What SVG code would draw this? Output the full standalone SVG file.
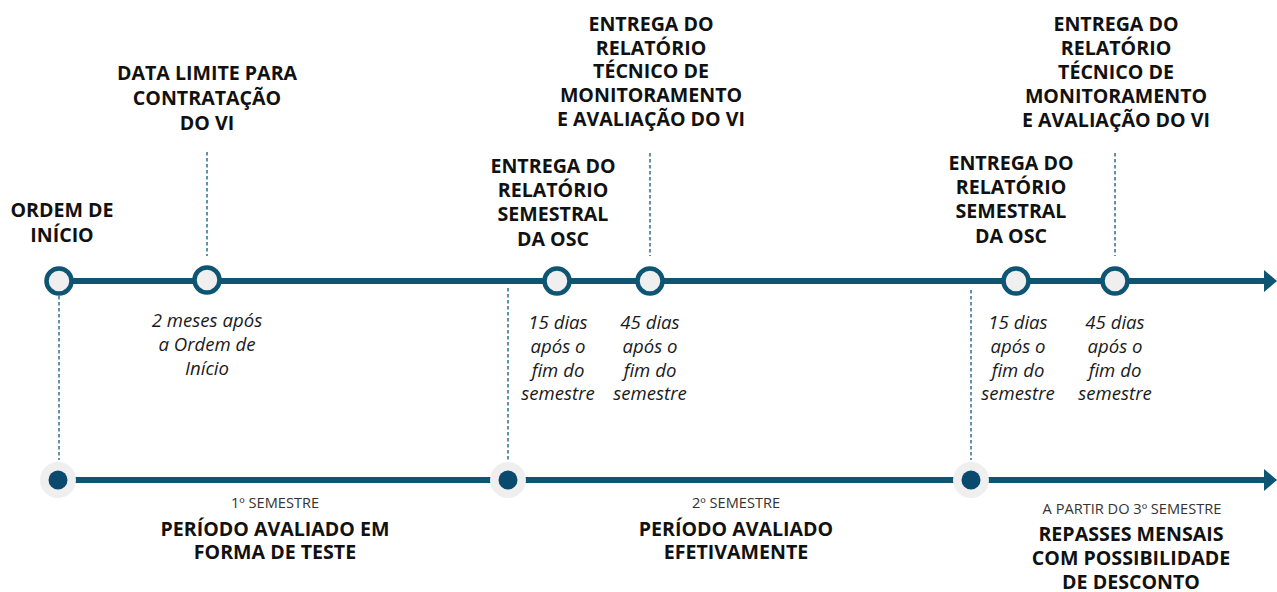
<svg xmlns="http://www.w3.org/2000/svg" width="1277" height="592" viewBox="0 0 1277 592">
<defs>
<style>
.b{font-family:"Open Sans","Liberation Sans",sans-serif;font-weight:bold;font-size:19.6px;fill:#111;text-anchor:middle}
.i{font-family:"Open Sans","Liberation Sans",sans-serif;font-style:italic;font-size:18.6px;fill:#1a1a1a;text-anchor:middle}
.s{font-family:"Open Sans","Liberation Sans",sans-serif;font-size:14.6px;fill:#333;text-anchor:middle}
.line{stroke:#0d5573;stroke-width:6;fill:none}
.dash{stroke:#2f6f8f;stroke-width:1.5;stroke-dasharray:3.5 2.5;fill:none}
.node{fill:#efefef;stroke:#0d5573;stroke-width:4.5}
.halo{fill:#efefef}
.dot{fill:#0b4a6f}
.head{fill:#0d5573}
</style>
</defs>
<rect width="1277" height="592" fill="#ffffff"/>
<g id="connectors">
<path class="line" d="M59,281 H1265"/>
<path class="head" d="M1264,270 L1277,281 L1264,292 Z"/>
<path class="line" d="M59,480 H1265"/>
<path class="head" d="M1264,469 L1277,480 L1264,491 Z"/>
<path class="dash" d="M207,152 V256"/>
<path class="dash" d="M650,153 V256"/>
<path class="dash" d="M1115,153 V256"/>
<path class="dash" d="M59,296 V460"/>
<path class="dash" d="M508,288 V460"/>
<path class="dash" d="M971,290 V460"/>
</g>
<g id="ordem-inicio">
<circle class="node" cx="59" cy="281" r="12.5"/>
<text class="b" x="62" y="217"><tspan x="62">ORDEM DE</tspan><tspan x="62" dy="25">INÍCIO</tspan></text>
</g>
<g id="data-limite">
<circle class="node" cx="207" cy="280" r="12.5"/>
<text class="b" x="207" y="80"><tspan x="207">DATA LIMITE PARA</tspan><tspan x="207" dy="25">CONTRATAÇÃO</tspan><tspan x="207" dy="25">DO VI</tspan></text>
<text class="i" x="207" y="327"><tspan x="207">2 meses após</tspan><tspan x="207" dy="24">a Ordem de</tspan><tspan x="207" dy="24">Início</tspan></text>
</g>
<g id="relatorio-osc-1">
<circle class="node" cx="557" cy="281" r="12.5"/>
<text class="b" x="553" y="173"><tspan x="553">ENTREGA DO</tspan><tspan x="553" dy="24">RELATÓRIO</tspan><tspan x="553" dy="24">SEMESTRAL</tspan><tspan x="553" dy="24.5">DA OSC</tspan></text>
<text class="i" x="558" y="329"><tspan x="558">15 dias</tspan><tspan x="558" dy="24">após o</tspan><tspan x="558" dy="24">fim do</tspan><tspan x="558" dy="23">semestre</tspan></text>
</g>
<g id="relatorio-vi-1">
<circle class="node" cx="650" cy="281" r="12.5"/>
<text class="b" x="651" y="30.5"><tspan x="651">ENTREGA DO</tspan><tspan x="651" dy="24">RELATÓRIO</tspan><tspan x="651" dy="23.5">TÉCNICO DE</tspan><tspan x="651" dy="24">MONITORAMENTO</tspan><tspan x="651" dy="24">E AVALIAÇÃO DO VI</tspan></text>
<text class="i" x="650" y="329"><tspan x="650">45 dias</tspan><tspan x="650" dy="24">após o</tspan><tspan x="650" dy="24">fim do</tspan><tspan x="650" dy="23">semestre</tspan></text>
</g>
<g id="relatorio-osc-2">
<circle class="node" cx="1016" cy="281" r="12.5"/>
<text class="b" x="1011" y="170"><tspan x="1011">ENTREGA DO</tspan><tspan x="1011" dy="24">RELATÓRIO</tspan><tspan x="1011" dy="24">SEMESTRAL</tspan><tspan x="1011" dy="24.5">DA OSC</tspan></text>
<text class="i" x="1018" y="329"><tspan x="1018">15 dias</tspan><tspan x="1018" dy="24">após o</tspan><tspan x="1018" dy="24">fim do</tspan><tspan x="1018" dy="23">semestre</tspan></text>
</g>
<g id="relatorio-vi-2">
<circle class="node" cx="1115" cy="281" r="12.5"/>
<text class="b" x="1116" y="31"><tspan x="1116">ENTREGA DO</tspan><tspan x="1116" dy="24">RELATÓRIO</tspan><tspan x="1116" dy="24">TÉCNICO DE</tspan><tspan x="1116" dy="24">MONITORAMENTO</tspan><tspan x="1116" dy="24">E AVALIAÇÃO DO VI</tspan></text>
<text class="i" x="1115" y="329"><tspan x="1115">45 dias</tspan><tspan x="1115" dy="24">após o</tspan><tspan x="1115" dy="24">fim do</tspan><tspan x="1115" dy="23">semestre</tspan></text>
</g>
<g id="semestre-1">
<circle class="halo" cx="58" cy="480" r="18"/>
<circle class="dot" cx="58" cy="480" r="9.5"/>
<text class="s" x="275" y="508">1º SEMESTRE</text>
<text class="b" x="275" y="536"><tspan x="275">PERÍODO AVALIADO EM</tspan><tspan x="275" dy="23">FORMA DE TESTE</tspan></text>
</g>
<g id="semestre-2">
<circle class="halo" cx="508" cy="480" r="18"/>
<circle class="dot" cx="508" cy="480" r="9.5"/>
<text class="s" x="736" y="508">2º SEMESTRE</text>
<text class="b" x="736" y="536"><tspan x="736">PERÍODO AVALIADO</tspan><tspan x="736" dy="23">EFETIVAMENTE</tspan></text>
</g>
<g id="semestre-3">
<circle class="halo" cx="971" cy="480" r="18"/>
<circle class="dot" cx="971" cy="480" r="9.5"/>
<text class="s" x="1132" y="514">A PARTIR DO 3º SEMESTRE</text>
<text class="b" x="1131" y="541"><tspan x="1131">REPASSES MENSAIS</tspan><tspan x="1131" dy="24">COM POSSIBILIDADE</tspan><tspan x="1131" dy="23.5">DE DESCONTO</tspan></text>
</g>
</svg>
